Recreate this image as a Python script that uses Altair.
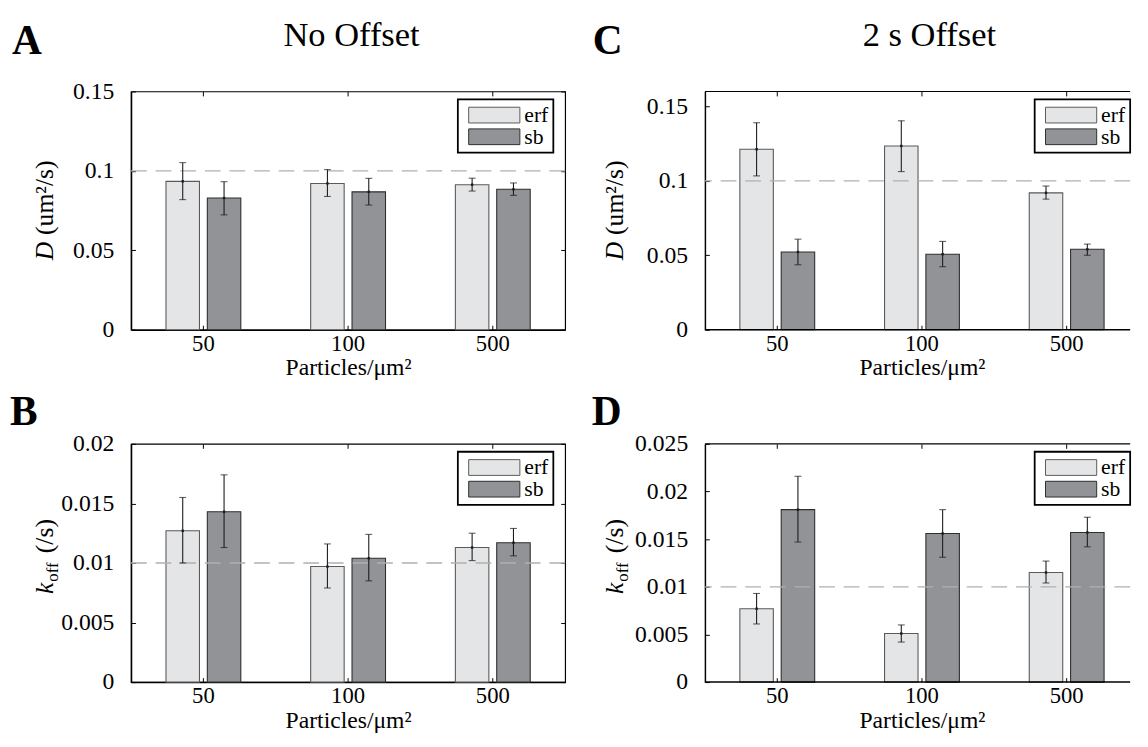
import altair as alt
import pandas as pd

# ---------------- data ----------------
categories = ["50", "100", "500"]
series = ["erf", "sb"]

# Panel A: D, no offset
a_erf = [0.0934, 0.0921, 0.0913]
a_erf_lo = [0.0819, 0.0839, 0.0873]
a_erf_hi = [0.1052, 0.1008, 0.0954]
a_sb = [0.0829, 0.0868, 0.0884]
a_sb_lo = [0.0723, 0.0785, 0.0846]
a_sb_hi = [0.0932, 0.0953, 0.0924]

# Panel B: k_off, no offset
b_erf = [0.0127, 0.0097, 0.0113]
b_erf_lo = [0.0100, 0.0079, 0.0102]
b_erf_hi = [0.0155, 0.0116, 0.0125]
b_sb = [0.0143, 0.0104, 0.0117]
b_sb_lo = [0.0113, 0.0085, 0.0106]
b_sb_hi = [0.0174, 0.0124, 0.0129]

# Panel C: D, 2 s offset
c_erf = [0.1212, 0.1234, 0.0919]
c_erf_lo = [0.1033, 0.1062, 0.0877]
c_erf_hi = [0.1390, 0.1403, 0.0965]
c_sb = [0.0522, 0.0507, 0.0540]
c_sb_lo = [0.0436, 0.0423, 0.0500]
c_sb_hi = [0.0608, 0.0593, 0.0575]

# Panel D: k_off, 2 s offset
d_erf = [0.0077, 0.0051, 0.0115]
d_erf_lo = [0.0061, 0.0042, 0.0104]
d_erf_hi = [0.0093, 0.0060, 0.0127]
d_sb = [0.0181, 0.0156, 0.0157]
d_sb_lo = [0.0147, 0.0131, 0.0142]
d_sb_hi = [0.0216, 0.0181, 0.0173]

ticks_D_noff = [0, 0.05, 0.1, 0.15]
ticks_D_off = [0, 0.05, 0.1, 0.15]
ticks_k_noff = [0, 0.005, 0.01, 0.015, 0.02]
ticks_k_off = [0, 0.005, 0.01, 0.015, 0.02, 0.025]
ref_D = [0.1]
ref_k = [0.01]

# ---------------- style ----------------
FONT = "Liberation Serif, DejaVu Serif, serif"
W, H = 441, 242
ERF_FILL, SB_FILL = "#e4e5e7", "#929397"
ERF_EDGE, SB_EDGE = "#5a5a5a", "#2e2e2e"
ERR = "#1c1c1c"
INWARD = {"expr": "-4.5"}


def table(m1, lo1, hi1, m2, lo2, hi2):
    rows = []
    for i, c in enumerate(categories):
        rows.append({"cat": c, "series": "erf", "mean": m1[i], "lo": lo1[i], "hi": hi1[i]})
        rows.append({"cat": c, "series": "sb", "mean": m2[i], "lo": lo2[i], "hi": hi2[i]})
    return pd.DataFrame(rows)


def label(text, x, y, **kw):
    return alt.Chart(pd.DataFrame({"t": [text]})).mark_text(
        font=FONT, color="black", **kw
    ).encode(text="t:N", x=alt.value(x), y=alt.value(y))


def panel(df, ymax, yticks, ref, letter, letter_x, letter_y, title, title_x,
          ykind, ytitle_x, legend_x, anchor=False, cut_right=False):
    view_w = 432 if cut_right else W
    xscale = alt.Scale(domain=categories, paddingInner=0, paddingOuter=0, range=[0, W])
    xoff = alt.XOffset("series:N", sort=series,
                       scale=alt.Scale(domain=series, paddingInner=0.19, paddingOuter=0.845))
    yscale = alt.Scale(domain=[0, ymax], nice=False, zero=True)
    legend = alt.Legend(
        title=None, orient="none", legendX=legend_x, legendY=8, direction="vertical",
        symbolType="M-3.25,-1H3.25V1H-3.25Z", symbolSize=256, symbolStrokeWidth=1,
        symbolOffset=21, labelOffset=19.5, labelFont=FONT, labelFontSize=22,
        labelColor="black", strokeColor="black", fillColor="white", padding=5,
        rowPadding=0, cornerRadius=0,
    )
    base = alt.Chart(df)
    bars = base.mark_bar(strokeWidth=1.1).encode(
        x=alt.X("cat:N", sort=categories, scale=xscale, axis=alt.Axis(
            orient="bottom", title="Particles/μm²", labelAngle=0, labelFont=FONT,
            labelFontSize=23, labelColor="black", labelPadding=7.5, tickSize=INWARD,
            tickColor="black", tickWidth=1, domain=not cut_right, domainColor="black",
            domainWidth=1.5, titleFont=FONT, titleFontSize=24, titleFontWeight="normal",
            titleColor="black", titleY=46, titleBaseline="alphabetic", grid=False)),
        xOffset=xoff,
        y=alt.Y("mean:Q", scale=yscale, axis=alt.Axis(
            orient="left", title=None, values=yticks, format=".3~g", labelFont=FONT,
            labelFontSize=24, labelColor="black", labelPadding=22, labelFlush=False,
            tickSize=INWARD, tickColor="black", tickWidth=1, domainColor="black",
            domainWidth=1.5, grid=False)),
        fill=alt.Fill("series:N", sort=series,
                      scale=alt.Scale(domain=series, range=[ERF_FILL, SB_FILL]), legend=legend),
        stroke=alt.Stroke("series:N", sort=series,
                          scale=alt.Scale(domain=series, range=[ERF_EDGE, SB_EDGE]), legend=legend),
    )
    dash = alt.Chart(pd.DataFrame({"ref": ref})).mark_rule(
        color="#b0b0b0", strokeWidth=1.3, strokeDash=[16, 9]
    ).encode(y=alt.Y("ref:Q", scale=yscale, axis=None))
    err = base.mark_rule(color=ERR, strokeWidth=1.1).encode(
        x=alt.X("cat:N", sort=categories, scale=xscale, axis=alt.Axis(
            orient="top", labels=False, domain=False, title=None, tickSize=INWARD,
            tickColor="black", tickWidth=1, grid=False)),
        xOffset=xoff,
        y=alt.Y("lo:Q", scale=yscale, axis=alt.Axis(
            orient="right", labels=False, domain=False, title=None, values=yticks,
            tickSize=INWARD, tickColor="black", tickWidth=1,
            tickOpacity=0 if cut_right else 1, grid=False)),
        y2="hi:Q",
    )
    cap_lo = base.mark_tick(color=ERR, size=7, thickness=1.1).encode(
        x=alt.X("cat:N", sort=categories, scale=xscale, axis=None), xOffset=xoff,
        y=alt.Y("lo:Q", scale=yscale, axis=None))
    cap_hi = base.mark_tick(color=ERR, size=7, thickness=1.1).encode(
        x=alt.X("cat:N", sort=categories, scale=xscale, axis=None), xOffset=xoff,
        y=alt.Y("hi:Q", scale=yscale, axis=None))
    dots = base.mark_square(size=6, color=ERR, opacity=1).encode(
        x=alt.X("cat:N", sort=categories, scale=xscale, axis=None), xOffset=xoff,
        y=alt.Y("mean:Q", scale=yscale, axis=None))

    layers = [bars, dash, err, cap_lo, cap_hi, dots]
    if cut_right:
        # top and bottom edges of the axes box; its right side lies beyond the page edge
        layers.append(alt.Chart(pd.DataFrame({"edge": [0]})).mark_rule(
            color="black", strokeWidth=1.5).encode(y=alt.Y("edge:Q", scale=yscale, axis=None)))
        layers.append(alt.Chart(pd.DataFrame({"edge": [ymax]})).mark_rule(
            color="black", strokeWidth=1.2).encode(y=alt.Y("edge:Q", scale=yscale, axis=None)))
    layers.append(label(letter, letter_x, letter_y, fontSize=42, fontWeight="bold",
                        align="left", baseline="alphabetic"))
    if title:
        layers.append(label(title, title_x, -46, fontSize=35, align="center",
                            baseline="alphabetic"))
    if ykind == "D":
        a = H / 2 + 50.5 - 18.8
        layers.append(label("D", ytitle_x, a, fontSize=26, fontStyle="italic", angle=270,
                            align="right", baseline="alphabetic"))
        layers.append(label("(um²/s)", ytitle_x, a - 7, fontSize=26, angle=270,
                            align="left", baseline="alphabetic"))
    else:
        a = H / 2 - 4 + 35.5 - 11.5
        layers.append(label("k", ytitle_x, a, fontSize=26, fontStyle="italic", angle=270,
                            align="right", baseline="alphabetic"))
        layers.append(label("off", ytitle_x + 5, a - 1, fontSize=17, angle=270,
                            align="left", baseline="alphabetic"))
        layers.append(label("(/s)", ytitle_x, a - 30, fontSize=26, angle=270,
                            align="left", baseline="alphabetic"))
    if anchor:
        layers.append(alt.Chart(pd.DataFrame({"t": [0]})).mark_rule(
            stroke="white", strokeOpacity=0).encode(
            x=alt.value(-124), x2=alt.value(-122), y=alt.value(-78)))
    ch = alt.layer(*layers).properties(width=view_w, height=H)
    if cut_right:
        ch = ch.properties(view=alt.ViewBackground(stroke="transparent"))
    return ch


pA = panel(table(a_erf, a_erf_lo, a_erf_hi, a_sb, a_sb_lo, a_sb_hi), 0.15, ticks_D_noff, ref_D,
           "A", -121, -38, "No Offset", 224, "D", -79, 332, anchor=True)
pC = panel(table(c_erf, c_erf_lo, c_erf_hi, c_sb, c_sb_lo, c_sb_hi), 0.16, ticks_D_off, ref_D,
           "C", -114, -38, "2 s Offset", 228, "D", -83, 335, cut_right=True)
pB = panel(table(b_erf, b_erf_lo, b_erf_hi, b_sb, b_sb_lo, b_sb_hi), 0.02, ticks_k_noff, ref_k,
           "B", -123, -19, None, 0, "k", -79, 332)
pD = panel(table(d_erf, d_erf_lo, d_erf_hi, d_sb, d_sb_lo, d_sb_hi), 0.025, ticks_k_off, ref_k,
           "D", -115, -19, None, 0, "k", -83, 335, cut_right=True)

chart = alt.concat(
    pA, pC, pB, pD, columns=2, spacing={"row": 116, "column": 142}, bounds="flush"
).resolve_scale(
    x="independent", y="independent", fill="independent", stroke="independent"
).resolve_legend(
    fill="independent", stroke="independent"
).properties(
    padding=0, background="white"
).configure(
    font=FONT
).configure_view(
    stroke="black", strokeWidth=1.2
).configure_legend(
    strokeWidth=1.8
)

chart.save("out.html", embed_options={"renderer": "svg", "actions": False})
